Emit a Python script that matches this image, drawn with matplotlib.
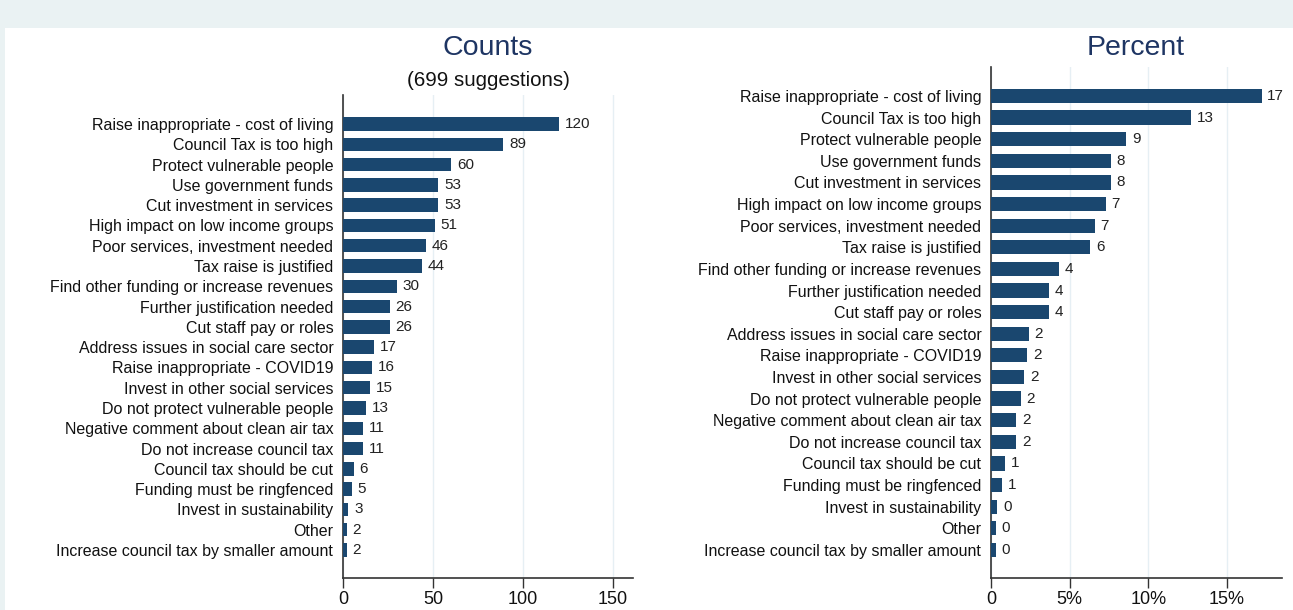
import matplotlib.pyplot as plt
from matplotlib.patches import Rectangle

plt.rcParams['font.family'] = ['Liberation Sans', 'DejaVu Sans']

categories = [
    "Raise inappropriate - cost of living",
    "Council Tax is too high",
    "Protect vulnerable people",
    "Use government funds",
    "Cut investment in services",
    "High impact on low income groups",
    "Poor services, investment needed",
    "Tax raise is justified",
    "Find other funding or increase revenues",
    "Further justification needed",
    "Cut staff pay or roles",
    "Address issues in social care sector",
    "Raise inappropriate - COVID19",
    "Invest in other social services",
    "Do not protect vulnerable people",
    "Negative comment about clean air tax",
    "Do not increase council tax",
    "Council tax should be cut",
    "Funding must be ringfenced",
    "Invest in sustainability",
    "Other",
    "Increase council tax by smaller amount",
]
counts = [120, 89, 60, 53, 53, 51, 46, 44, 30, 26, 26, 17, 16, 15, 13, 11, 11, 6, 5, 3, 2, 2]
percents = [17.2, 12.7, 8.6, 7.6, 7.6, 7.3, 6.6, 6.3, 4.3, 3.7, 3.7, 2.4, 2.3, 2.1,
            1.9, 1.6, 1.6, 0.9, 0.7, 0.4, 0.3, 0.3]
count_ticks = [0, 50, 100, 150]
pct_ticks = [0, 5, 10, 15]
pct_ticklabels = ["0", "5%", "10%", "15%"]

bar_col = "#1a476f"
title_col = "#1e3563"
grid_col = "#e6eff4"

fig = plt.figure(figsize=(12.93, 6.10), dpi=100)
fig.patch.set_facecolor("#eaf2f3")
fig.patches.append(Rectangle((5 / 1293, 0), 1, 1 - 28 / 610, transform=fig.transFigure,
                             facecolor="white", edgecolor="none", zorder=-1))


def draw_panel(ax, values, labels, xlim, ticks, ticklabels, ylim):
    y = list(range(len(values)))
    ax.barh(y, values, height=0.66, color=bar_col, zorder=3)
    for yi, v, lab in zip(y, values, labels):
        ax.text(v + xlim * 0.02, yi, lab, va="center", ha="left", fontsize=11, color="#222222")
    ax.set_yticks(y)
    ax.set_yticklabels(categories, fontsize=11.5, color="#111111")
    ax.set_ylim(*ylim)
    ax.set_xlim(0, xlim)
    ax.set_xticks(ticks)
    ax.set_xticklabels(ticklabels, fontsize=13, color="#111111")
    ax.tick_params(axis="y", length=0, pad=7)
    ax.tick_params(axis="x", length=7, width=1, pad=2, color="#333333")
    ax.xaxis.grid(True, color=grid_col, linewidth=1, zorder=0)
    ax.set_axisbelow(True)
    for s in ["top", "right"]:
        ax.spines[s].set_visible(False)
    for s in ["left", "bottom"]:
        ax.spines[s].set_color("#333333")
        ax.spines[s].set_linewidth(1.2)
    ax.set_facecolor("none")


ax1 = fig.add_axes([343 / 1293, 32 / 610, 290 / 1293, 483 / 610])
ax1.set_zorder(2)
draw_panel(ax1, counts, [str(c) for c in counts], 161, count_ticks,
           [str(t) for t in count_ticks], (22.38, -1.43))

ax2 = fig.add_axes([991 / 1293, 32 / 610, 291 / 1293, 511 / 610])
ax2.set_zorder(2)
draw_panel(ax2, percents, [f"{p:.0f}" for p in percents], 18.5, pct_ticks,
           pct_ticklabels, (22.3, -1.34))

fig.text(488 / 1293, 1 - 48 / 610, "Counts", ha="center", va="center", fontsize=20.5, color=title_col)
fig.text(488 / 1293, 1 - 80 / 610, "(699 suggestions)", ha="center", va="center", fontsize=14.8,
         color="#111111")
fig.text(1136 / 1293, 1 - 48 / 610, "Percent", ha="center", va="center", fontsize=20.5, color=title_col)

fig.savefig("out.png", dpi=100, facecolor=fig.get_facecolor())
